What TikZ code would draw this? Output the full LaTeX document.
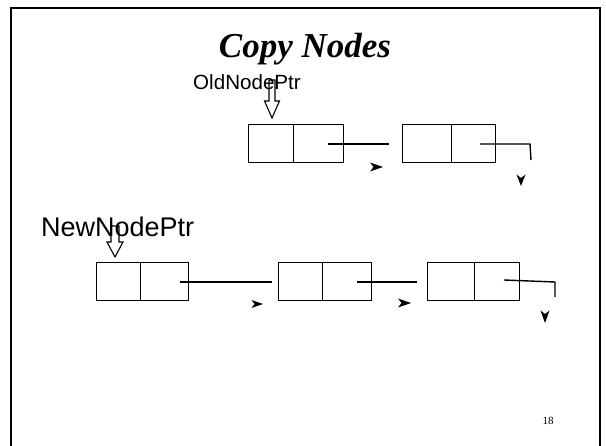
\documentclass[tikz,border=0pt]{standalone}
\usepackage{fontspec}
\setmainfont{Liberation Serif}
\newfontfamily\labelfont{Liberation Sans}
\begin{document}
\begin{tikzpicture}[x=1pt,y=-1pt,
  cell/.style={draw, line width=1.4pt, minimum height=38pt, inner sep=0pt, anchor=north west},
  link/.style={line width=1.4pt},
  tipfill/.style={fill=black},
  blockarrow/.style={draw, line width=1.1pt},
  lbl/.style={font=\labelfont, inner sep=0pt},
]
\useasboundingbox (0,0) rectangle (606,446);
% frame
\coordinate (fbl) at (11,446);
\coordinate (ftl) at (11,8);
\coordinate (ftr) at (600,8);
\coordinate (fbr) at (600,446);
\draw[line width=2pt] (fbl) -- (ftl) -- (ftr) -- (fbr);

% title
\node[anchor=base, inner sep=0pt, font=\fontsize{35}{40}\selectfont\bfseries\itshape] (title) at (305,58) {Copy Nodes};

% top list
\node[cell, minimum width=45pt] (ta1) at (248,124) {};
\node[cell, minimum width=50pt] (ta2) at (293,124) {};
\node[cell, minimum width=49pt] (tb1) at (402,124) {};
\node[cell, minimum width=44pt] (tb2) at (451,124) {};

\coordinate (t1s) at (328,144);
\coordinate (t1e) at (389,144);
\draw[link] (t1s) -- (t1e);
\coordinate (t2s) at (480,144);
\coordinate (t2c) at (530,144);
\coordinate (t2e) at (531,160);
\draw[link] (t2s) -- (t2c) -- (t2e);

% detached arrowheads (top)
\fill[tipfill] (383,167) -- (370,162.5) -- (373.5,167) -- (370,171.5) -- cycle;
\fill[tipfill] (521,186) -- (516.5,174.5) -- (521,178) -- (525.5,174.5) -- cycle;

% OldNodePtr
\node[lbl, anchor=base west, font=\labelfont\fontsize{20.6}{24}\selectfont] (old) at (193,90) {OldNodePtr};
\draw[blockarrow] (269,80) -- (275,80) -- (275,101) -- (279.5,101) -- (272,118) -- (264.5,101) -- (269,101) -- cycle;

% bottom list
\node[cell, minimum width=44pt] (ba1) at (96,262) {};
\node[cell, minimum width=48pt] (ba2) at (140,262) {};
\node[cell, minimum width=44pt] (bb1) at (278,262) {};
\node[cell, minimum width=49pt] (bb2) at (322,262) {};
\node[cell, minimum width=47pt] (bc1) at (427,262) {};
\node[cell, minimum width=45pt] (bc2) at (474,262) {};

\coordinate (b1s) at (180,282);
\coordinate (b1e) at (272,282);
\draw[link] (b1s) -- (b1e);
\coordinate (b2s) at (357,282);
\coordinate (b2e) at (417,282);
\draw[link] (b2s) -- (b2e);
\coordinate (b3s) at (504,280);
\coordinate (b3c) at (555,282);
\coordinate (b3e) at (555,297);
\draw[link] (b3s) -- (b3c) -- (b3e);

% detached arrowheads (bottom)
\fill[tipfill] (263,304) -- (251.5,300) -- (254.5,304) -- (251.5,308) -- cycle;
\fill[tipfill] (411,303) -- (398,298.5) -- (401.5,303) -- (398,307.5) -- cycle;
\fill[tipfill] (545,323) -- (540.5,310.5) -- (545,314) -- (549.5,310.5) -- cycle;

% NewNodePtr
\node[lbl, anchor=base west, font=\labelfont\fontsize{27}{31}\selectfont] (new) at (41,237) {NewNodePtr};
\draw[blockarrow] (111,226) -- (119,226) -- (119,242) -- (123,242) -- (115,257) -- (107,242) -- (111,242) -- cycle;

% page number
\node[anchor=base, inner sep=0pt, font=\fontsize{11}{13}\selectfont] (pg) at (548,425) {18};
\end{tikzpicture}
\end{document}
